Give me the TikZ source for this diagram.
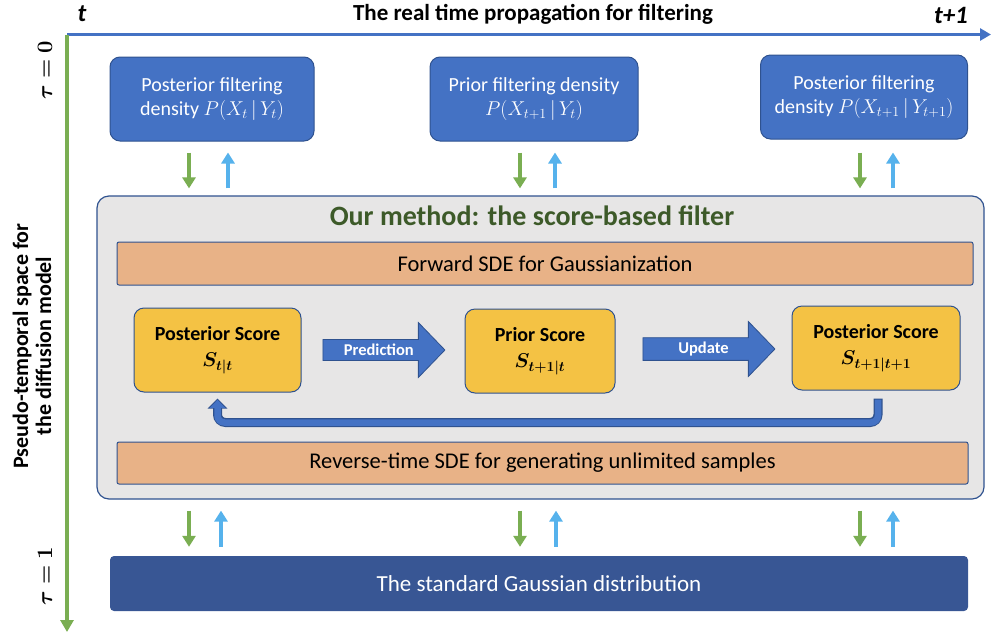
\RequirePackage{fix-cm}
\documentclass[tikz,border=0pt]{standalone}
\usepackage{fontspec}
\setmainfont{Carlito}
\usepackage{amsmath}
\usepackage{bm}
\usetikzlibrary{arrows.meta,shapes.arrows,calc}

\definecolor{boxblue}{HTML}{4472C4}
\definecolor{edgeblue}{HTML}{2F528F}
\definecolor{deepblue}{HTML}{385694}
\definecolor{methodgray}{HTML}{E7E6E6}
\definecolor{sdeorange}{HTML}{E8B287}
\definecolor{scoregold}{HTML}{F4C244}
\definecolor{downgreen}{HTML}{7AAE52}
\definecolor{uplight}{HTML}{56B2EC}
\definecolor{titlegreen}{HTML}{3D5A29}

\begin{document}
\begin{tikzpicture}[x=1pt,y=-1pt,
    densbox/.style={draw=edgeblue,line width=1pt,fill=boxblue,rounded corners=10pt,
      text=white,align=center,font=\fontsize{20}{24}\selectfont,minimum height=84pt,inner sep=0pt},
    methodbox/.style={draw=edgeblue,line width=1.2pt,fill=methodgray,rounded corners=12pt},
    sdebar/.style={draw=edgeblue,line width=1pt,fill=sdeorange,rounded corners=2pt,
      font=\fontsize{22.5}{26}\selectfont,inner sep=0pt},
    scorebox/.style={draw=edgeblue,line width=1pt,fill=scoregold,rounded corners=10pt,
      align=center,font=\fontsize{20}{26}\selectfont,minimum height=84pt,inner sep=0pt},
    fatarrow/.style={single arrow,draw=edgeblue,line width=0.8pt,fill=boxblue,text=white,
      font=\fontsize{16.5}{18}\selectfont\bfseries,minimum width=55pt,
      single arrow head extend=13.5pt,single arrow tip angle=92,inner sep=2pt},
    gaussbox/.style={fill=deepblue,rounded corners=4pt,text=white,
      font=\fontsize{23}{26}\selectfont,inner sep=0pt},
    gdown/.style={line width=4pt,downgreen,-{Triangle[width=13pt,length=11pt]}},
    bup/.style={line width=4pt,uplight,-{Triangle[width=13pt,length=11pt]}},
    backouter/.style={line width=9pt,edgeblue,rounded corners=8pt,-{Triangle[width=19pt,length=10pt]}},
    backinner/.style={line width=6.5pt,boxblue,rounded corners=7pt,shorten <=1pt,shorten >=1.4pt,
      -{Triangle[width=15pt,length=8pt]}},
    timeaxis/.style={line width=3.5pt,boxblue,-{Triangle[width=12pt,length=11pt]}},
    tauaxis/.style={line width=4pt,downgreen,-{Triangle[width=13pt,length=12pt]}}]
  \useasboundingbox (0,0) rectangle (992,635);

  % axes
  \coordinate (origin) at (67,34.5);
  \coordinate (tend) at (991,34.5);
  \coordinate (tauend) at (67,632);
  \draw[timeaxis] (origin) -- (tend);
  \draw[tauaxis] (origin) -- (tauend);
  \node[font=\fontsize{25}{25}\selectfont\bfseries\itshape] (tlab) at (82,14) {t};
  \node[font=\fontsize{25}{25}\selectfont\bfseries\itshape] (t1lab) at (951,15) {t+1};
  \node[font=\fontsize{23}{26}\selectfont\bfseries] (axtitle) at (533,14) {The real time propagation for filtering};
  \node[rotate=90,font=\fontsize{22}{22}\selectfont] (tau0) at (45,70) {$\bm{\tau=0}$};
  \node[rotate=90,font=\fontsize{22}{22}\selectfont] (tau1) at (45,576) {$\bm{\tau=1}$};
  \node[rotate=90,align=center,font=\fontsize{22}{23}\selectfont\bfseries] (pseudo) at (32,346)
    {Pseudo-temporal space for\\the diffusion model};

  % densities
  \node[densbox,minimum width=204pt] (post1) at (212,99) {Posterior filtering\\density $P(X_t\,|\,Y_t)$};
  \node[densbox,minimum width=208pt] (prior1) at (534,99) {Prior filtering density\\$P(X_{t+1}\,|\,Y_t)$};
  \node[densbox,minimum width=207pt] (post2) at (864,97) {Posterior filtering\\density $P(X_{t+1}\,|\,Y_{t+1})$};

  % score-based filter
  \node[methodbox,minimum width=887pt,minimum height=303pt] (method) at (540.5,347.5) {};
  \node[font=\fontsize{28}{32}\selectfont\bfseries,text=titlegreen] (title) at (532,216) {Our method: the score-based filter};
  \node[sdebar,minimum width=856pt,minimum height=43pt] (fwd) at (545,263.5) {Forward SDE for Gaussianization};
  \node[sdebar,minimum width=851pt,minimum height=42pt] (rev) at (542.5,463) {Reverse-time SDE for generating unlimited samples};
  \node[scorebox,minimum width=167pt] (Stt) at (217.5,350) {\textbf{Posterior Score}\\$\bm{S_{t|t}}$};
  \node[scorebox,minimum width=150pt] (Sprior) at (540,351) {\textbf{Prior Score}\\$\bm{S_{t+1|t}}$};
  \node[scorebox,minimum width=168pt] (Spost) at (876,348) {\textbf{Posterior Score}\\$\bm{S_{t+1|t+1}}$};
  \node[fatarrow,minimum height=122pt,anchor=tail] (pred) at ([xshift=21pt]Stt.east) {Prediction};
  \node[fatarrow,minimum height=132pt,anchor=tail] (upd) at ([xshift=27pt,yshift=2pt]Sprior.east) {Update};
  \draw[backouter] ([xshift=2pt,yshift=-8pt]Spost.south) -- ++(0,24) -| ([yshift=-6pt]Stt.south);
  \draw[backinner] ([xshift=2pt,yshift=-8pt]Spost.south) -- ++(0,24) -| ([yshift=-6pt]Stt.south);

  \node[gaussbox,minimum width=858pt,minimum height=55pt] (gauss) at (539,583.5) {The standard Gaussian distribution};

  % links to the filter
  \draw[gdown] ($(post1.south)+(-23,11)$) -- ($(post1.south |- method.north)+(-23,-7)$);
  \draw[bup] ($(post1.south |- method.north)+(16,-7)$) -- ($(post1.south)+(16,11)$);
  \draw[gdown] ($(prior1.south)+(-14,11)$) -- ($(prior1.south |- method.north)+(-14,-7)$);
  \draw[bup] ($(prior1.south |- method.north)+(21,-7)$) -- ($(prior1.south)+(21,11)$);
  \draw[gdown] ($(post2.south)+(-4,13)$) -- ($(post2.south |- method.north)+(-4,-7)$);
  \draw[bup] ($(post2.south |- method.north)+(29,-7)$) -- ($(post2.south)+(29,13)$);

  \draw[gdown] ($(post1.south |- method.south)+(-23,11)$) -- ($(post1.south |- gauss.north)+(-23,-9)$);
  \draw[bup] ($(post1.south |- gauss.north)+(9,-9)$) -- ($(post1.south |- method.south)+(9,11)$);
  \draw[gdown] ($(prior1.south |- method.south)+(-14,11)$) -- ($(prior1.south |- gauss.north)+(-14,-9)$);
  \draw[bup] ($(prior1.south |- gauss.north)+(22,-9)$) -- ($(prior1.south |- method.south)+(22,11)$);
  \draw[gdown] ($(post2.south |- method.south)+(-4,11)$) -- ($(post2.south |- gauss.north)+(-4,-9)$);
  \draw[bup] ($(post2.south |- gauss.north)+(29,-9)$) -- ($(post2.south |- method.south)+(29,11)$);
\end{tikzpicture}
\end{document}
